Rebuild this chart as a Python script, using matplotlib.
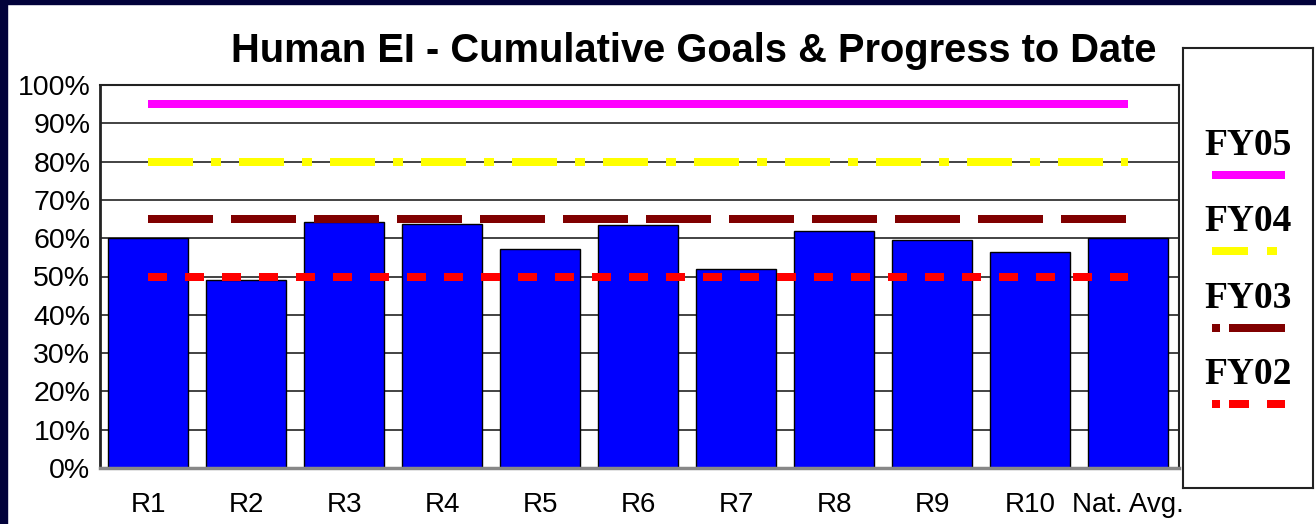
import matplotlib
matplotlib.use("Agg")
import matplotlib.pyplot as plt
from matplotlib.lines import Line2D
from matplotlib.patches import Rectangle
import numpy as np

regions = ["R1", "R2", "R3", "R4", "R5", "R6", "R7", "R8", "R9", "R10", "Nat. Avg."]
progress = [0.601, 0.492, 0.642, 0.638, 0.573, 0.634, 0.520, 0.620, 0.596, 0.564, 0.600]

goal_names = ["FY05", "FY04", "FY03", "FY02"]
goal_values = [0.95, 0.80, 0.65, 0.50]
goal_colors = ["#FF00FF", "#FFFF00", "#800000", "#FF0000"]

PX = 0.72  # points per pixel at dpi 100
# dash patterns in pixels (None = solid)
goal_dashes = [None, [45, 18, 10, 18], [65, 18], [19, 18]]
legend_dashes = [None, [36, 19, 10, 19], [8, 9, 56, 9], [8, 9, 20, 18, 18, 40]]

plt.rcParams["font.family"] = ["Liberation Sans", "DejaVu Sans"]
plt.rcParams["lines.scale_dashes"] = False

W, H = 1316, 524
fig = plt.figure(figsize=(W / 100, H / 100), dpi=100, facecolor="white")

# slide background edges
fig.patches.append(Rectangle((0, 0), 7 / W, 1, transform=fig.transFigure, color="#02023a", zorder=0))
fig.patches.append(Rectangle((0, 1 - 4 / H), 1, 4 / H, transform=fig.transFigure, color="#02023a", zorder=0))

ax = fig.add_axes([100 / W, (H - 468) / H, 1079 / W, (468 - 85) / H])
x = np.arange(len(regions))
ax.bar(x, progress, width=0.82, color="#0000FF", edgecolor="black", linewidth=1, zorder=2)

for name, val, col, dash in zip(goal_names, goal_values, goal_colors, goal_dashes):
    ln, = ax.plot([x[0], x[-1]], [val, val], color=col, lw=8 * PX, solid_capstyle="butt", zorder=3)
    if dash is not None:
        ln.set_dashes([d * PX for d in dash])

ax.set_xlim(-0.49, 10.52)
ax.set_ylim(0, 1.0)
ax.set_yticks(np.arange(0, 1.01, 0.1))
ax.set_yticklabels([f"{int(round(v * 100))}%" for v in np.arange(0, 1.01, 0.1)])
ax.set_xticks(x)
ax.set_xticklabels(regions)
ax.tick_params(axis="y", length=0, pad=7, labelsize=20.5)
ax.tick_params(axis="x", length=0, pad=17, labelsize=20)
ax.yaxis.grid(True, color="#222222", linewidth=1.2, zorder=0)
ax.set_axisbelow(True)
for s in ax.spines.values():
    s.set_linewidth(1.5)
    s.set_color("#222222")
ax.spines["left"].set_linewidth(2)
ax.spines["bottom"].set_color("#888888")
ax.spines["bottom"].set_linewidth(2.5)

fig.text(694 / W, 1 - 62 / H, "Human EI - Cumulative Goals & Progress to Date",
         ha="center", va="baseline", fontsize=28.7, fontweight="bold")

# legend box, laid out in pixel units
lg = fig.add_axes([1183 / W, (H - 488) / H, 130 / W, 440 / H])
lg.set_xlim(1183, 1313)
lg.set_ylim(488, 48)
lg.set_xticks([])
lg.set_yticks([])
for s in lg.spines.values():
    s.set_linewidth(1.5)
    s.set_color("#222222")

text_base = [155, 231, 308, 384]
line_y = [175, 251, 328, 404]
for name, col, dash, ty, ly in zip(goal_names, goal_colors, legend_dashes, text_base, line_y):
    lg.text(1248, ty, name, ha="center", va="baseline", fontsize=27, fontweight="bold",
            family=["Liberation Serif", "DejaVu Serif"])
    ln = Line2D([1212, 1285], [ly, ly], color=col, lw=8 * PX, solid_capstyle="butt")
    if dash is not None:
        ln.set_dashes([d * PX for d in dash])
    lg.add_line(ln)

fig.savefig("out.png", dpi=100, facecolor="white")
